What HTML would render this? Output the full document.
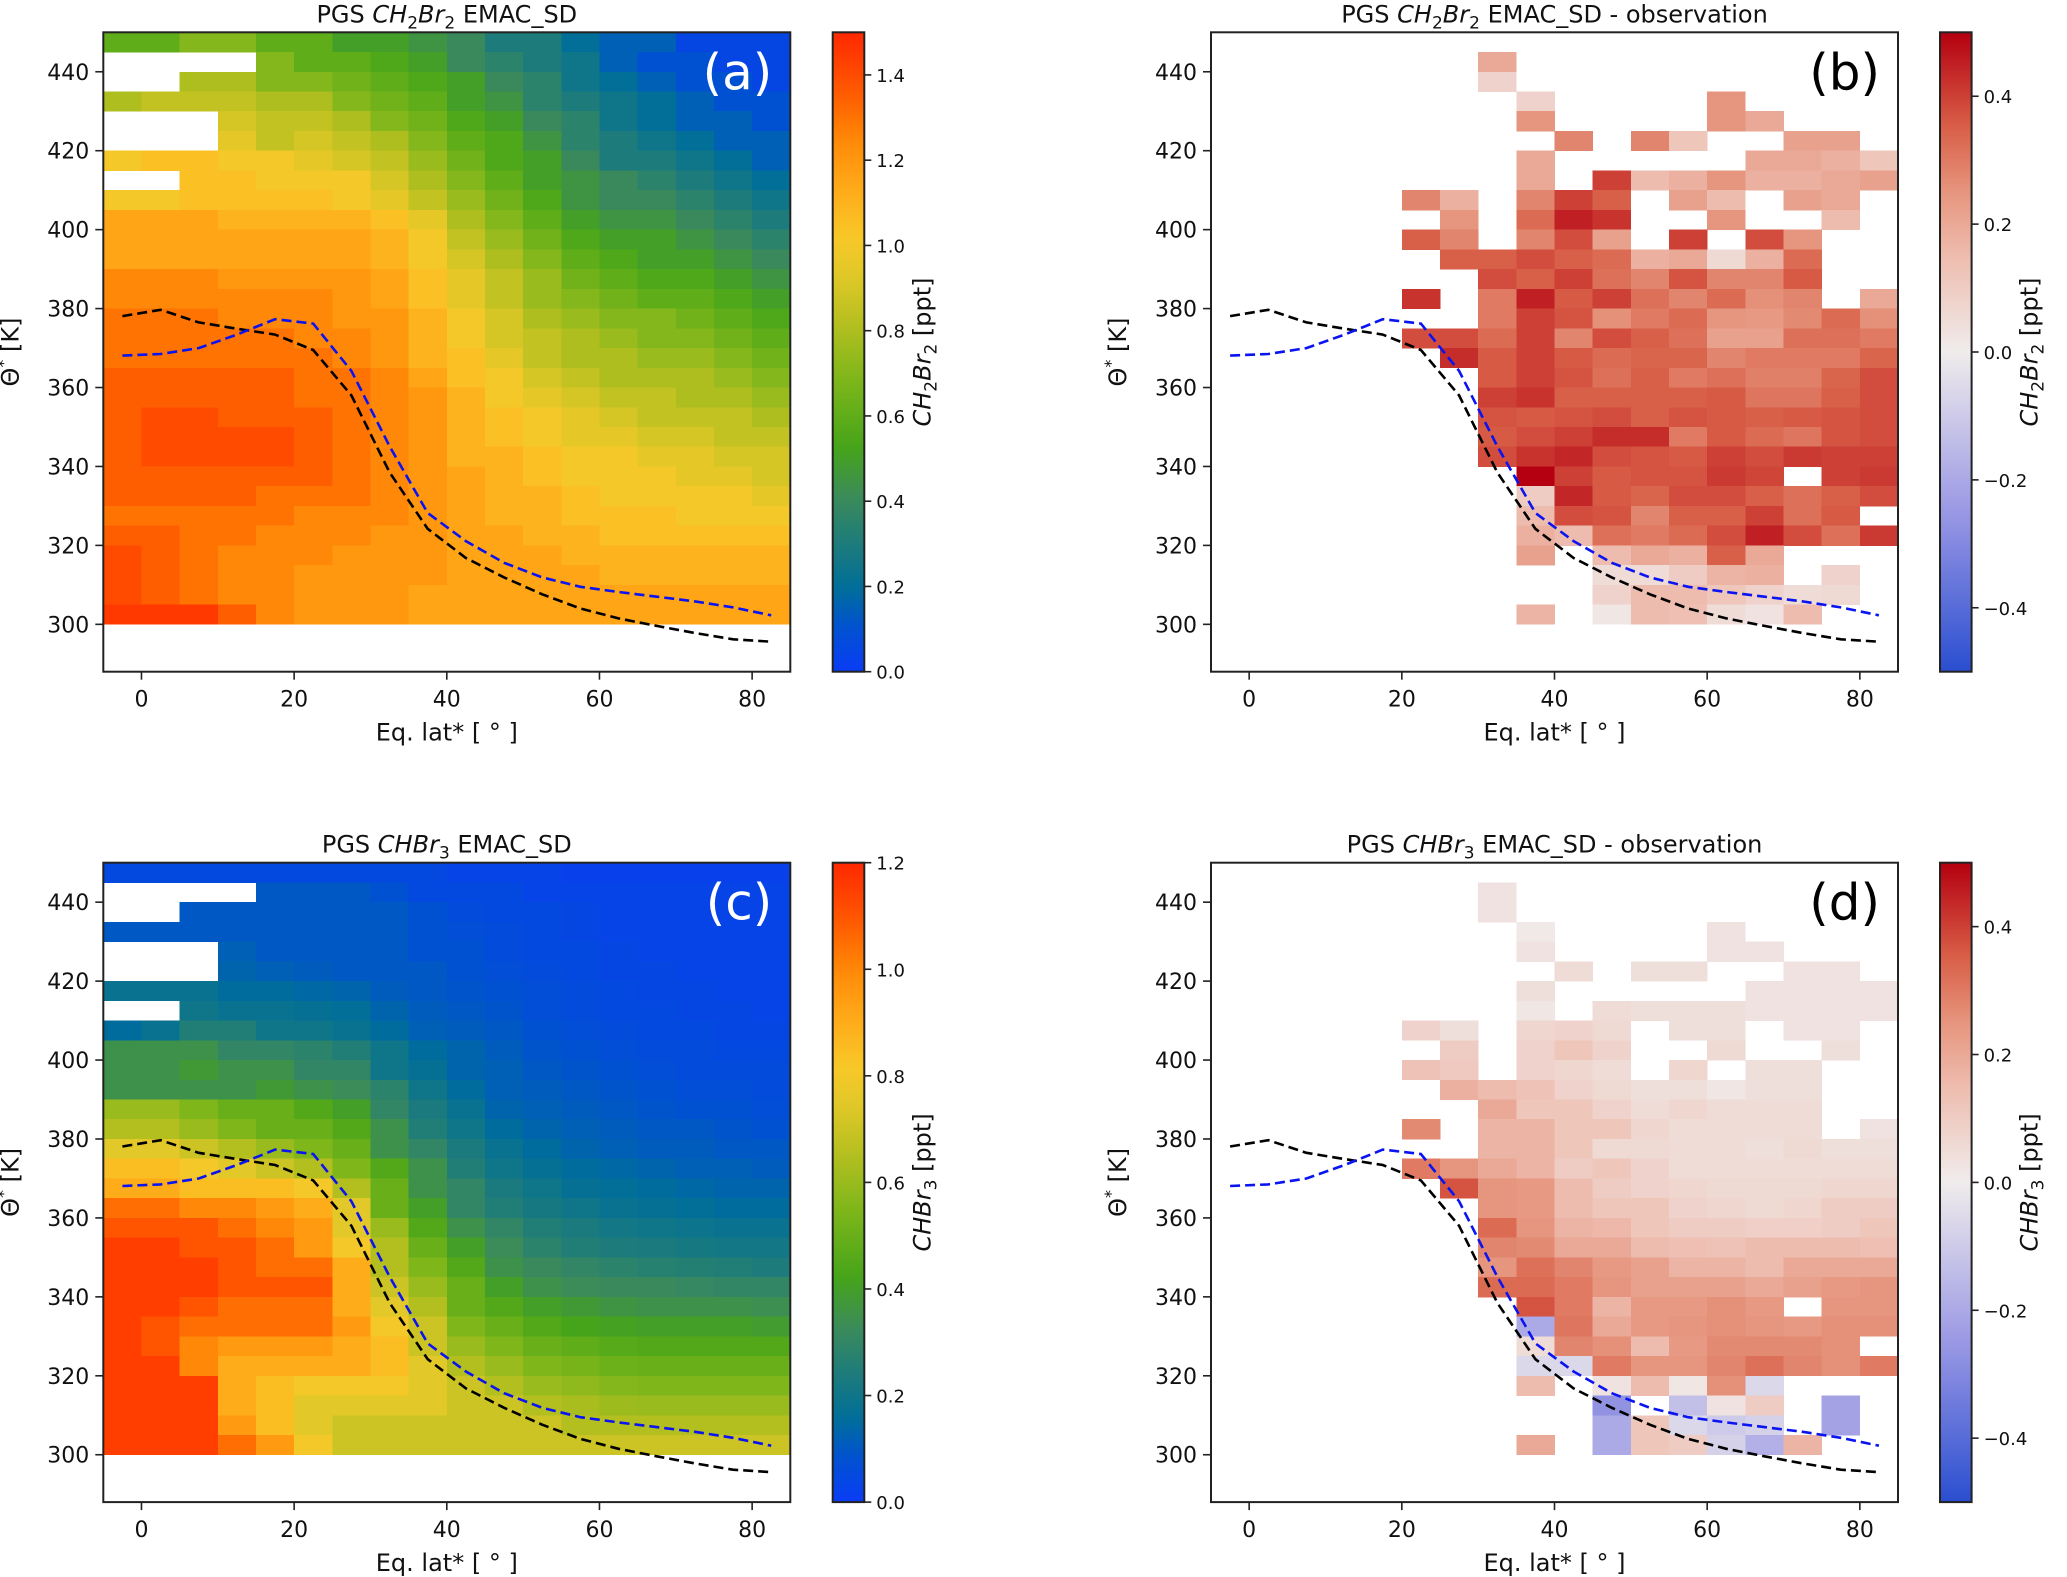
<!DOCTYPE html>
<html><head><meta charset="utf-8"><title>PGS CH2Br2 / CHBr3</title>
<style>html,body{margin:0;padding:0;background:#fff}svg{display:block;font-family:"DejaVu Sans","Liberation Sans",sans-serif}</style>
</head><body>
<svg id="fig" xmlns="http://www.w3.org/2000/svg" width="2067" height="1577" viewBox="0 0 2067 1577"></svg>
<script>
const _ = null;
// Latitude bin centers (5° bins) and theta bin bottoms (rows listed top to bottom)
const latCenters = [-2.5,2.5,7.5,12.5,17.5,22.5,27.5,32.5,37.5,42.5,47.5,52.5,57.5,62.5,67.5,72.5,77.5,82.5];
const thetaBottoms = [445,440,435,430,425,420,415,410,405,400,395,390,385,380,375,370,365,360,355,350,345,340,335,330,325,320,315,310,305,300];
const xTicks = [0,20,40,60,80];
const yTicks = [300,320,340,360,380,400,420,440];
const cbTicksA = [0,0.2,0.4,0.6,0.8,1.0,1.2,1.4];
const cbTicksC = [0,0.2,0.4,0.6,0.8,1.0,1.2];
const cbTicksDiff = [-0.4,-0.2,0,0.2,0.4];
// Dashed lines (same in all panels)
const lineLat = [-2.5,2.5,7.5,12.5,17.5,22.5,27.5,32.5,37.5,42.5,47.5,52.5,57.5,62.5,67.5,72.5,77.5,82.5];
const blackTheta = [378.1,379.7,376.5,374.9,373.4,369.5,358,338.5,324.2,316.8,311.9,307.6,304,301.5,299.6,297.8,296.2,295.6];
const blueTheta = [368.1,368.5,370,373.4,377.3,376.2,364.2,345.1,328.2,321.1,315.6,311.9,309.5,308.2,307,305.8,304.3,302.3];

// Panel (a): CH2Br2 in units of 0.1 ppt
const gridA = [
[6,6,7,7,6,6,5,5,4.5,4,3,3,2,1.5,1.5,0.5,0.5,0.5],
[_,_,_,_,7,6,6,5.5,5,4,3.5,3,2.5,1.5,1,1,0.5,0.5],
[_,_,8,8,7,7,6.5,6,5.5,5,4,3.5,2.5,2,1.5,1,1,0.5],
[8,8.5,8.5,8.5,8,8,7,6.5,6,5,4.5,3.5,3,2.5,2,1.5,1,1],
[_,_,_,9,8.5,8.5,8,7,6.5,5.5,5,4,3.5,2.5,2,1.5,1.5,1],
[_,_,_,9.5,8.5,9,8.5,8,7,6,5.5,4.5,3.5,3,2.5,2,1.5,1.5],
[10,10.5,10.5,10,10,9.5,9,8.5,7.5,6.5,5.5,5,4,3,3,2.5,2,1.5],
[_,_,10.5,10.5,10,10,10,9,8,7,6,5,4.5,4,3.5,3,2.5,2],
[10,10,10.5,10.5,10.5,10.5,10,9.5,8.5,7.5,6.5,5.5,4.5,4,4,3.5,3,2.5],
[11.5,11.5,11.5,11,11,11,11,10.5,9.5,8,7,6,5,4.5,4.5,4,3.5,3],
[11.5,11.5,11.5,11.5,11.5,11.5,11.5,11,10,8.5,7.5,6.5,5.5,5,5,4.5,4,3.5],
[11.5,11.5,11.5,11.5,11.5,11.5,11.5,11,10,9,8,7,6,5.5,5,5,4.5,4],
[12.5,12.5,12.5,12,12,12,12,11.5,10.5,9.5,8.5,7.5,6.5,6,5.5,5.5,5,4.5],
[12.5,12.5,12.5,12.5,12.5,12.5,12,11.5,10.5,9.5,8.5,7.5,7,6.5,6,6,5.5,5],
[13,13,13,12.5,12.5,12.5,12,12,11,10,9,8,7.5,7,7,6.5,6,5.5],
[13,13,13,13,13,12.5,12.5,12,11,10,9,8.5,8,7.5,7,7,6.5,6],
[13,13,13,13,13,13,12.5,12,11,10.5,9.5,8.5,8,8,7.5,7.5,7,6.5],
[13.5,13.5,13.5,13.5,13.5,13,13,12.5,11.5,10.5,10,9,8.5,8,8,8,7.5,7],
[13.5,13.5,13.5,13.5,13.5,13,13,12.5,12,11,10,9.5,9,8.5,8.5,8,8,7.5],
[13.5,14,14,13.5,13.5,13.5,13,12.5,12,11,10.5,10,9.5,9,8.5,8.5,8.5,8],
[13.5,14,14,14,14,13.5,13,12.5,12,11,10.5,10,9.5,9.5,9,9,8.5,8.5],
[13.5,14,14,14,14,13.5,13,12.5,12,11,11,10.5,10,10,9.5,9.5,9,9],
[13.5,13.5,13.5,13.5,13.5,13.5,13,12.5,12,11.5,11,10.5,10,10,10,9.5,9.5,9],
[13.5,13.5,13.5,13.5,13,13,13,12.5,12,11.5,11,11,10.5,10,10,10,10,9.5],
[13,13,13,13,13,12.5,12.5,12.5,12,11.5,11,11,10.5,10.5,10.5,10,10,10],
[13.5,13.5,13,13,12.5,12.5,12.5,12,12,11.5,11.5,11,11,10.5,10.5,10.5,10.5,10.5],
[14,13.5,13,12.5,12.5,12.5,12,12,12,11.5,11.5,11.5,11,11,11,11,11,11],
[14,13.5,13,12.5,12.5,12,12,12,12,11.5,11.5,11.5,11.5,11,11,11,11,11],
[14,13.5,13,12.5,12.5,12,12,12,11.5,11.5,11.5,11.5,11.5,11.5,11.5,11.5,11.5,11.5],
[14.5,14.5,14.5,13.5,12.5,12,12,12,11.5,11.5,11.5,11.5,11.5,11.5,11.5,11.5,11.5,11.5]
];
// Panel (c): CHBr3 in units of 0.1 ppt
const gridC = [
[0.5,0.5,0.5,0.5,0.5,0.5,0.5,0.5,0.5,0.3,0.3,0.3,0.2,0.2,0.2,0.2,0.2,0.2],
[_,_,_,_,1,1,1,0.8,0.5,0.5,0.5,0.3,0.3,0.3,0.3,0.3,0.3,0.3],
[_,_,1,1,1,1,1,1,0.8,0.6,0.5,0.5,0.4,0.3,0.3,0.3,0.3,0.3],
[1,1,1,1,1,1,1,1,0.8,0.7,0.6,0.5,0.4,0.3,0.3,0.3,0.3,0.3],
[_,_,_,1.2,1,1,1,1,0.8,0.8,0.6,0.5,0.5,0.4,0.3,0.3,0.3,0.3],
[_,_,_,1.3,1.2,1.1,1,1,1,0.8,0.7,0.6,0.5,0.4,0.4,0.3,0.3,0.3],
[1.8,1.8,1.8,1.5,1.5,1.4,1.3,1.1,1,0.9,0.8,0.7,0.6,0.5,0.4,0.4,0.3,0.3],
[_,_,2,1.8,1.8,1.7,1.6,1.3,1.1,1,0.9,0.7,0.6,0.5,0.5,0.4,0.4,0.3],
[1.5,1.8,2.5,2.5,2,2,1.8,1.5,1.2,1.1,1,0.8,0.7,0.6,0.5,0.5,0.4,0.4],
[3.5,3.5,3.5,3,3,2.8,2.5,2,1.5,1.3,1.1,0.9,0.8,0.7,0.6,0.6,0.5,0.5],
[3.5,3.5,3.8,3.5,3.5,3,3,2,1.7,1.3,1.2,1,0.9,0.8,0.7,0.6,0.6,0.6],
[3.5,3.5,3.5,3.5,3.8,3.5,3.3,2.8,2,1.5,1.2,1.1,1,0.9,0.8,0.7,0.7,0.6],
[6,6,5.5,5,5,4.5,4,3,2.3,1.8,1.3,1.2,1.1,1,0.9,0.8,0.8,0.7],
[6.5,6.5,6,5.5,5,5,4.5,3.5,2.5,2,1.5,1.3,1.2,1.1,1,1,0.9,0.8],
[7.5,7.5,7,6.5,6,5.5,5,3.5,3,2.3,1.8,1.5,1.3,1.2,1.1,1.1,1,1],
[8.5,8.5,8,7.5,7,6.5,5.5,4.5,3.5,2.5,2,1.7,1.5,1.4,1.3,1.2,1.2,1.1],
[9,9,8.5,8.5,8.5,8,6.5,5,3.5,3,2.3,2,1.7,1.6,1.5,1.4,1.3,1.3],
[10.5,10.5,10,10,9.5,9,7.5,5,4,3,2.5,2.2,2,1.8,1.7,1.6,1.5,1.5],
[11,11,11,10.5,10,9.5,7.5,6,4.5,3.5,3,2.5,2.3,2.1,2,1.9,1.8,1.8],
[11.5,11.5,11,11,10.5,9.5,8,6.5,5,4,3.3,2.8,2.5,2.4,2.3,2.2,2.1,2.1],
[11.5,11.5,11.5,11,10.5,10.5,9,6.5,5.5,4.5,3.5,3.2,3,2.8,2.7,2.6,2.5,2.4],
[11.5,11.5,11.5,11,11,11,9,7,6,5,4,3.5,3.3,3.2,3.2,3.1,3,3],
[11.5,11.5,11,10.5,10.5,10.5,9,7.5,6.5,5,4.5,4,3.8,3.6,3.5,3.5,3.5,3.4],
[11.5,11,10.5,10.5,10.5,10.5,9.5,8,7,5.5,5,4.5,4.2,4.1,4,4,4,3.9],
[11.5,11,10,9.5,9.5,9.5,9,8.5,7,6,5.5,5,4.8,4.6,4.5,4.5,4.5,4.5],
[11.5,11.5,10,9,9,9,9,8.5,7.5,6.5,6,5.5,5.3,5.1,5,5,5,5],
[11.5,11.5,11.5,9,8.5,8,8,8,7.5,7,6.5,6,5.8,5.6,5.5,5.5,5.5,5.5],
[11.5,11.5,11.5,9,8.5,7.5,7.5,7.5,7.5,7,7,6.5,6.3,6.1,6,6,6,6],
[11.5,11.5,11.5,9.5,8.5,7.5,7,7,7,7,7,7,6.5,6.5,6.5,6.5,6.5,6.5],
[11.5,11.5,11.5,10.5,9.5,8,7,7,7,7,7,7,7,7,7,7,7,7]
];
// Panel (b): CH2Br2 model - observation [ppt]
const gridB = [
[_,_,_,_,_,_,_,_,_,_,_,_,_,_,_,_,_,_],
[_,_,_,_,_,_,_,0.2,_,_,_,_,_,_,_,_,_,_],
[_,_,_,_,_,_,_,0.08,_,_,_,_,_,_,_,_,_,_],
[_,_,_,_,_,_,_,_,0.08,_,_,_,_,0.25,_,_,_,_],
[_,_,_,_,_,_,_,_,0.25,_,_,_,_,0.25,0.2,_,_,_],
[_,_,_,_,_,_,_,_,_,0.28,_,0.28,0.12,_,_,0.22,0.22,_],
[_,_,_,_,_,_,_,_,0.2,_,_,_,_,_,0.2,0.2,0.18,0.12],
[_,_,_,_,_,_,_,_,0.2,_,0.4,0.15,0.18,0.25,0.18,0.18,0.2,0.22],
[_,_,_,_,_,0.28,0.18,_,0.28,0.4,0.35,_,0.22,0.15,_,0.22,0.2,_],
[_,_,_,_,_,_,0.25,_,0.33,0.45,0.42,_,_,0.25,_,_,0.15,_],
[_,_,_,_,_,0.35,0.28,_,0.28,0.38,0.22,_,0.4,_,0.38,0.25,_,_],
[_,_,_,_,_,_,0.35,0.35,0.38,0.35,0.33,0.18,0.2,0.06,0.18,0.33,_,_],
[_,_,_,_,_,_,_,0.38,0.35,0.4,0.32,0.28,0.37,0.28,0.28,0.36,_,_],
[_,_,_,_,_,0.42,_,0.3,0.45,0.36,0.4,0.32,0.28,0.33,0.26,0.28,_,0.2],
[_,_,_,_,_,_,_,0.3,0.4,0.37,0.26,0.3,0.33,0.25,0.24,0.27,0.33,0.26],
[_,_,_,_,_,0.38,0.38,0.33,0.4,0.28,0.38,0.35,0.32,0.22,0.22,0.32,0.32,0.3],
[_,_,_,_,_,_,0.43,0.36,0.4,0.36,0.33,0.34,0.34,0.28,0.3,0.3,0.3,0.34],
[_,_,_,_,_,_,_,0.36,0.4,0.37,0.32,0.35,0.3,0.32,0.29,0.29,0.34,0.38],
[_,_,_,_,_,_,_,0.4,0.42,0.35,0.35,0.35,0.35,0.36,0.31,0.31,0.35,0.38],
[_,_,_,_,_,_,_,0.37,0.36,0.37,0.38,0.35,0.37,0.36,0.35,0.36,0.37,0.38],
[_,_,_,_,_,_,_,0.36,0.38,0.4,0.43,0.43,0.3,0.36,0.33,0.31,0.37,0.38],
[_,_,_,_,_,_,_,0.38,0.42,0.44,0.38,0.37,0.36,0.4,0.38,0.41,0.4,0.4],
[_,_,_,_,_,_,_,_,0.5,0.4,0.36,0.37,0.37,0.41,0.39,_,0.4,0.41],
[_,_,_,_,_,_,_,_,0.1,0.44,0.36,0.34,0.38,0.38,0.35,0.32,0.35,0.38],
[_,_,_,_,_,_,_,_,0.15,0.38,0.37,0.28,0.35,0.35,0.4,0.32,0.36,_],
[_,_,_,_,_,_,_,_,0.18,0.15,0.32,0.3,0.33,0.38,0.45,0.38,0.32,0.41],
[_,_,_,_,_,_,_,_,0.22,_,0.15,0.2,0.18,0.35,0.2,_,_,_],
[_,_,_,_,_,_,_,_,_,_,0.05,0.05,0.1,0.17,0.18,_,0.08,_],
[_,_,_,_,_,_,_,_,_,_,0.08,0.15,0.15,0.12,0.08,0.05,0.06,_],
[_,_,_,_,_,_,_,_,0.17,_,0.02,0.15,0.14,0.05,0.03,0.15,_,_]
];
// Panel (d): CHBr3 model - observation [ppt]
const gridD = [
[_,_,_,_,_,_,_,_,_,_,_,_,_,_,_,_,_,_],
[_,_,_,_,_,_,_,0.03,_,_,_,_,_,_,_,_,_,_],
[_,_,_,_,_,_,_,0.03,_,_,_,_,_,_,_,_,_,_],
[_,_,_,_,_,_,_,_,0.01,_,_,_,_,0.03,_,_,_,_],
[_,_,_,_,_,_,_,_,0.03,_,_,_,_,0.03,0.03,_,_,_],
[_,_,_,_,_,_,_,_,_,0.05,_,0.04,0.04,_,_,0.03,0.03,_],
[_,_,_,_,_,_,_,_,0.04,_,_,_,_,_,0.03,0.03,0.03,0.03],
[_,_,_,_,_,_,_,_,0.02,_,0.05,0.04,0.04,0.04,0.03,0.03,0.03,0.03],
[_,_,_,_,_,0.08,0.04,_,0.07,0.08,0.06,_,0.04,0.04,_,0.03,0.03,_],
[_,_,_,_,_,_,0.1,_,0.08,0.12,0.08,_,_,0.06,_,_,0.04,_],
[_,_,_,_,_,0.13,0.11,_,0.08,0.07,0.05,_,0.07,_,0.04,0.04,_,_],
[_,_,_,_,_,_,0.18,0.15,0.13,0.08,0.06,0.04,0.04,0.02,0.04,0.04,_,_],
[_,_,_,_,_,_,_,0.2,0.12,0.12,0.08,0.05,0.07,0.05,0.05,0.05,_,_],
[_,_,_,_,_,0.27,_,0.17,0.17,0.12,0.12,0.07,0.05,0.05,0.05,0.05,_,0.03],
[_,_,_,_,_,_,_,0.17,0.17,0.12,0.06,0.06,0.05,0.05,0.04,0.06,0.04,0.04],
[_,_,_,_,_,0.3,0.25,0.2,0.17,0.1,0.12,0.08,0.05,0.05,0.05,0.05,0.05,0.05],
[_,_,_,_,_,_,0.37,0.25,0.24,0.15,0.1,0.08,0.07,0.06,0.06,0.06,0.07,0.07],
[_,_,_,_,_,_,_,0.25,0.24,0.15,0.12,0.12,0.08,0.07,0.06,0.07,0.1,0.1],
[_,_,_,_,_,_,_,0.33,0.25,0.17,0.16,0.12,0.1,0.1,0.09,0.09,0.1,0.12],
[_,_,_,_,_,_,_,0.28,0.27,0.2,0.2,0.15,0.14,0.13,0.15,0.15,0.15,0.14],
[_,_,_,_,_,_,_,0.25,0.32,0.28,0.24,0.22,0.17,0.17,0.15,0.2,0.2,0.2],
[_,_,_,_,_,_,_,0.33,0.33,0.3,0.25,0.22,0.22,0.22,0.2,0.22,0.24,0.25],
[_,_,_,_,_,_,_,_,0.37,0.3,0.17,0.24,0.24,0.26,0.24,_,0.25,0.25],
[_,_,_,_,_,_,_,_,-0.2,0.31,0.2,0.24,0.25,0.26,0.25,0.24,0.26,0.26],
[_,_,_,_,_,_,_,_,0.05,0.28,0.26,0.15,0.24,0.27,0.27,0.27,0.26,_],
[_,_,_,_,_,_,_,_,-0.06,-0.06,0.3,0.25,0.25,0.28,0.32,0.28,0.26,0.3],
[_,_,_,_,_,_,_,_,0.15,_,0.03,0.15,0.02,0.26,-0.06,_,_,_],
[_,_,_,_,_,_,_,_,_,_,-0.27,_,-0.13,0.03,0.1,_,-0.22,_],
[_,_,_,_,_,_,_,_,_,_,-0.2,0.12,-0.06,-0.1,-0.08,_,-0.22,_],
[_,_,_,_,_,_,_,_,0.2,_,-0.2,0.12,0.1,-0.08,-0.18,0.17,_,_]
];

const NS = 'http://www.w3.org/2000/svg';
const svg = document.getElementById('fig');
function mk(tag, attrs, parent, name) {
  const el = document.createElementNS(NS, tag);
  for (const k in attrs) el.setAttribute(k, attrs[k]);
  
  
  (parent || svg).appendChild(el);
  return el;
}
function hex(c){return [parseInt(c.slice(1,3),16),parseInt(c.slice(3,5),16),parseInt(c.slice(5,7),16)];}
function interp(stops, t) {
  t = Math.max(0, Math.min(1, t));
  for (let i = 1; i < stops.length; i++) {
    if (t <= stops[i][0]) {
      const a = stops[i-1], b = stops[i];
      const f = (t - a[0]) / (b[0] - a[0] || 1);
      const ca = hex(a[1]), cb = hex(b[1]);
      return 'rgb(' + ca.map((v,j)=>Math.round(v+(cb[j]-v)*f)).join(',') + ')';
    }
  }
  return stops[stops.length-1][1];
}
const seqStops = [[0,'#0a3cf5'],[0.07,'#0052d0'],[0.13,'#006e99'],[0.27,'#3a8a5c'],[0.35,'#46a41a'],[0.45,'#7ab51a'],[0.55,'#b8c020'],[0.62,'#e0c828'],[0.68,'#f8c828'],[0.76,'#ffa818'],[0.83,'#ff8a08'],[0.89,'#ff6400'],[0.95,'#ff4200'],[1,'#ff2800']];
const divStops = [[0,'#2a4ed0'],[0.25,'#9a98e4'],[0.5,'#f0ecec'],[0.65,'#eebcae'],[0.75,'#e6957e'],[0.85,'#d96048'],[1,'#b40010']];

const W = 687, H = 639.4;
const panels = [
 {id:'a', x0:103.3, y0:32.3, grid:gridA, stops:seqStops, vmin:0, vmax:15, cbmin:0, cbmax:1.5, ticks:cbTicksA, cbx:832.7, species:['CH','2','Br','2'], obs:false, lc:'#ffffff'},
 {id:'b', x0:1211, y0:32.3, grid:gridB, stops:divStops, vmin:-0.5, vmax:0.5, cbmin:-0.5, cbmax:0.5, ticks:cbTicksDiff, cbx:1940, species:['CH','2','Br','2'], obs:true, lc:'#000000'},
 {id:'c', x0:103.3, y0:862.7, grid:gridC, stops:seqStops, vmin:0, vmax:12, cbmin:0, cbmax:1.2, ticks:cbTicksC, cbx:832.7, species:['CHBr','3'], obs:false, lc:'#ffffff'},
 {id:'d', x0:1211, y0:862.7, grid:gridD, stops:divStops, vmin:-0.5, vmax:0.5, cbmin:-0.5, cbmax:0.5, ticks:cbTicksDiff, cbx:1940, species:['CHBr','3'], obs:true, lc:'#000000'}
];

function addSpecies(textEl, parts, fs) {
  parts.forEach((p, i) => {
    const sub = i % 2 === 1;
    const t = mk('tspan', {'font-style':'italic'}, textEl, sub ? 'subscript' : 'species-part');
    if (sub) { t.setAttribute('font-size', Math.round(fs*0.7)); t.setAttribute('dy', fs*0.25); t.setAttribute('font-style','normal'); }
    else if (i > 0) { t.setAttribute('dy', -fs*0.25); }
    t.textContent = p;
  });
  return parts.length % 2 === 0;
}

panels.forEach(p => {
  const g = mk('g', {}, svg, 'panel-' + p.id);
  const xs = lat => p.x0 + (lat + 5) / 90 * W;
  const ys = th => p.y0 + (450 - th) / 162 * H;
  const cell = mk('g', {'shape-rendering':'crispEdges'}, g, 'heatmap-' + p.id);
  p.grid.forEach((row, ri) => {
    row.forEach((v, ci) => {
      if (v === null) return;
      const x1 = xs(latCenters[ci] - 2.5), x2 = xs(latCenters[ci] + 2.5);
      const y1 = ys(thetaBottoms[ri] + 5), y2 = ys(thetaBottoms[ri]);
      const r = mk('rect', {x:x1, y:y1, width:x2-x1+0.4, height:y2-y1+0.4, fill:interp(p.stops, (v - p.vmin)/(p.vmax - p.vmin))}, cell, 'heatmap-cell');
    });
  });
  const pathOf = arr => arr.map((t,i)=>(i?'L':'M')+xs(lineLat[i]).toFixed(1)+','+ys(t).toFixed(1)).join(' ');
  mk('path', {d:pathOf(blackTheta), fill:'none', stroke:'#000', 'stroke-width':2.6, 'stroke-dasharray':'10,5'}, g, 'black-dashed-line');
  mk('path', {d:pathOf(blueTheta), fill:'none', stroke:'#0a14f0', 'stroke-width':2.6, 'stroke-dasharray':'10,5'}, g, 'blue-dashed-line');
  mk('rect', {x:p.x0, y:p.y0, width:W, height:H, fill:'none', stroke:'#222', 'stroke-width':2}, g, 'plot-frame');
  xTicks.forEach(t => {
    const x = xs(t);
    mk('line', {x1:x, y1:p.y0+H, x2:x, y2:p.y0+H+8, stroke:'#222', 'stroke-width':1.6}, g, 'x-tick');
    const tx = mk('text', {x:x, y:p.y0+H+35, 'font-size':22, 'text-anchor':'middle', fill:'#111'}, g, 'x-tick-label');
    tx.textContent = t;
  });
  yTicks.forEach(t => {
    const y = ys(t);
    mk('line', {x1:p.x0-8, y1:y, x2:p.x0, y2:y, stroke:'#222', 'stroke-width':1.6}, g, 'y-tick');
    const ty = mk('text', {x:p.x0-14, y:y+8, 'font-size':22, 'text-anchor':'end', fill:'#111'}, g, 'y-tick-label');
    ty.textContent = t;
  });
  const xl = mk('text', {x:p.x0+W/2, y:p.y0+H+69, 'font-size':24, 'text-anchor':'middle', fill:'#111'}, g, 'x-axis-title');
  xl.textContent = 'Eq. lat* [ ° ]';
  const ylx = p.x0 - 85, yly = p.y0 + H/2;
  const yl = mk('text', {x:ylx, y:yly, 'font-size':24, 'text-anchor':'middle', fill:'#111', transform:'rotate(-90 '+ylx+' '+yly+')'}, g, 'y-axis-title');
  yl.textContent = 'Θ';
  const sup = mk('tspan', {dy:-10, 'font-size':16}, yl, 'superscript');
  sup.textContent = '*';
  const rest = mk('tspan', {dy:10}, yl, 'unit');
  rest.textContent = ' [K]';
  const tt = mk('text', {x:p.x0+W/2, y:p.y0-10, 'font-size':24, 'text-anchor':'middle', fill:'#111'}, g, 'panel-title');
  const t0 = mk('tspan', {}, tt, 'title-prefix'); t0.textContent = 'PGS ';
  const endsSub = addSpecies(tt, p.species, 24);
  const t1 = mk('tspan', {}, tt, 'title-suffix');
  if (endsSub) t1.setAttribute('dy', -24*0.25);
  t1.textContent = p.obs ? ' EMAC_SD - observation' : ' EMAC_SD';
  const lt = mk('text', {x:p.x0+W-18, y:p.y0+57, 'font-size':50, 'text-anchor':'end', fill:p.lc}, g, 'panel-letter');
  lt.textContent = '(' + p.id + ')';
  const gid = 'grad-' + p.id;
  const defs = mk('defs', {}, g, 'colorbar-defs');
  const lg = mk('linearGradient', {id:gid, x1:0, y1:1, x2:0, y2:0}, defs, 'colorbar-gradient');
  for (let i = 0; i <= 40; i++) {
    mk('stop', {offset:(i/40), 'stop-color':interp(p.stops, i/40)}, lg, 'gradient-stop');
  }
  const cbw = 31.6;
  mk('rect', {x:p.cbx, y:p.y0, width:cbw, height:H, fill:'url(#'+gid+')', stroke:'#222', 'stroke-width':2}, g, 'colorbar');
  p.ticks.forEach(t => {
    const y = p.y0 + H - (t - p.cbmin)/(p.cbmax - p.cbmin) * H;
    mk('line', {x1:p.cbx+cbw, y1:y, x2:p.cbx+cbw+7, y2:y, stroke:'#222', 'stroke-width':1.6}, g, 'colorbar-tick');
    const ct = mk('text', {x:p.cbx+cbw+12, y:y+7, 'font-size':18, fill:'#111'}, g, 'colorbar-tick-label');
    ct.textContent = (t < 0 ? '−' : '') + Math.abs(t).toFixed(1);
  });
  const cx = p.cbx + cbw + 66, cy = p.y0 + H/2;
  const cl = mk('text', {x:cx, y:cy, 'font-size':24, 'text-anchor':'middle', fill:'#111', transform:'rotate(-90 '+cx+' '+cy+')'}, g, 'colorbar-title');
  const es = addSpecies(cl, p.species, 24);
  const cu = mk('tspan', {}, cl, 'colorbar-unit');
  if (es) cu.setAttribute('dy', -24*0.25);
  cu.textContent = ' [ppt]';
});
</script>
</body></html>
